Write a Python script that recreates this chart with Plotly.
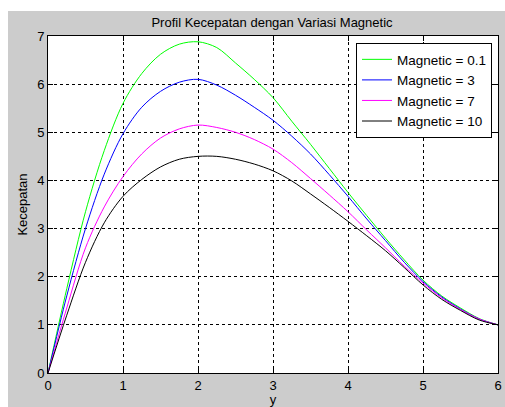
import plotly.graph_objects as go

x_vals = [0, 0.25, 0.5, 0.75, 1.0, 1.25, 1.5, 1.75, 2.0, 2.25, 2.5, 2.75, 3.0,
          3.25, 3.5, 3.75, 4.0, 4.25, 4.5, 4.75, 5.0, 5.25, 5.5, 5.75, 6.0]

m01 = [0, 1.75, 3.35, 4.62, 5.6, 6.22, 6.62, 6.83, 6.88, 6.76, 6.44, 6.1, 5.72,
       5.23, 4.75, 4.25, 3.75, 3.27, 2.8, 2.35, 1.93, 1.6, 1.35, 1.13, 1.0]
m3 = [0, 1.6, 3.0, 4.13, 4.97, 5.52, 5.85, 6.04, 6.1, 5.98, 5.77, 5.52, 5.25,
      4.92, 4.55, 4.12, 3.67, 3.2, 2.75, 2.3, 1.9, 1.58, 1.33, 1.12, 1.0]
m7 = [0, 1.35, 2.6, 3.45, 4.08, 4.55, 4.88, 5.07, 5.15, 5.1, 5.0, 4.85, 4.65,
      4.37, 4.04, 3.7, 3.35, 2.97, 2.6, 2.22, 1.87, 1.56, 1.32, 1.12, 1.0]
m10 = [0, 1.2, 2.3, 3.12, 3.67, 4.02, 4.28, 4.44, 4.5, 4.5, 4.44, 4.34, 4.2,
       3.99, 3.72, 3.44, 3.15, 2.85, 2.54, 2.19, 1.83, 1.53, 1.3, 1.1, 1.0]

series_names = ["Magnetic = 0.1", "Magnetic = 3", "Magnetic = 7", "Magnetic = 10"]
series_vals = [m01, m3, m7, m10]
series_colors = ["#00ff00", "#0000ff", "#ff00ff", "#000000"]

fig = go.Figure()
for name, vals, col in zip(series_names, series_vals, series_colors):
    fig.add_trace(go.Scatter(x=x_vals, y=vals, mode="lines", name=name,
                             line=dict(color=col, width=1, shape="spline", smoothing=0.9)))

axis_common = dict(
    showline=True, linecolor="black", linewidth=1, mirror="ticks",
    ticks="inside", ticklen=5, tickcolor="black",
    showgrid=True, gridcolor="black", gridwidth=1, griddash="3px,3px",
    zeroline=False, tickfont=dict(size=13, color="black"),
    dtick=1, automargin=False,
)

fig.update_layout(
    width=505, height=407,
    margin=dict(l=48, r=7, t=36, b=34),
    paper_bgcolor="#cccccc", plot_bgcolor="white",
    font=dict(family="Liberation Sans, Arial, sans-serif", size=13, color="black"),
    title=dict(text="Profil Kecepatan dengan Variasi Magnetic", x=(272) / 505, xanchor="center",
               y=1 - 22 / 407, yanchor="middle", font=dict(size=13, color="black")),
    xaxis=dict(range=[0, 6], title=dict(text="y", standoff=4, font=dict(size=13)), **axis_common),
    yaxis=dict(range=[0, 7], title=dict(text="Kecepatan", standoff=6, font=dict(size=13)), **axis_common),
    legend=dict(x=0.9867, y=0.979, xanchor="right", yanchor="top",
                bgcolor="white", bordercolor="black", borderwidth=1,
                font=dict(size=13.5, color="black"), tracegroupgap=0),
    showlegend=True,
)

# white strips outside the gray figure area (top and left)
fig.add_shape(type="rect", xref="paper", yref="paper",
              x0=-48 / 450, x1=(505 - 48) / 450 + 0.01, y0=(373 - 11) / 337, y1=373 / 337 + 0.01,
              fillcolor="white", line=dict(width=0), layer="above")
fig.add_shape(type="rect", xref="paper", yref="paper",
              x0=-48 / 450 - 0.01, x1=-40 / 450, y0=(373 - 407) / 337 - 0.01, y1=373 / 337 + 0.01,
              fillcolor="white", line=dict(width=0), layer="above")

fig.write_html("out.html")
